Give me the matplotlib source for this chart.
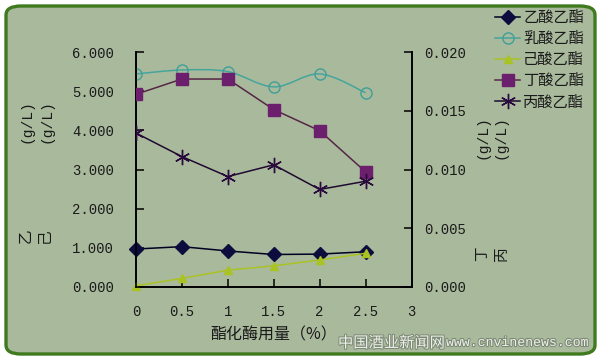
import numpy as np
import matplotlib
matplotlib.use('Agg')
import matplotlib.pyplot as plt
from matplotlib.patches import FancyBboxPatch, PathPatch
from matplotlib.path import Path
from matplotlib.lines import Line2D
import matplotlib.patheffects as pe

# enzyme dosage (%)
dosage = [0, 0.5, 1, 1.5, 2, 2.5]

# left axis (g/L)
yisuan = [0.97, 1.03, 0.92, 0.83, 0.84, 0.90]      # 乙酸乙酯
rusuan = [5.44, 5.54, 5.50, 5.11, 5.44, 4.96]      # 乳酸乙酯
jisuan = [0.03, 0.22, 0.43, 0.54, 0.69, 0.86]      # 己酸乙酯

# right axis (g/L)
dingsuan = [0.0164, 0.0177, 0.0177, 0.0151, 0.0133, 0.0098]  # 丁酸乙酯
bingsuan = [0.0131, 0.0111, 0.0094, 0.0104, 0.0083, 0.0090]  # 丙酸乙酯

names = ['乙酸乙酯', '乳酸乙酯', '己酸乙酯', '丁酸乙酯', '丙酸乙酯']
xticks = [0, 0.5, 1, 1.5, 2, 2.5, 3]
lticks = [0, 1, 2, 3, 4, 5, 6]
rticks = [0, 0.005, 0.010, 0.015, 0.020]

cjk = 'Noto Sans CJK SC'
num = 'Liberation Mono'
txt = '#1a1a1a'

fig = plt.figure(figsize=(6, 3.6), dpi=100)
fig.patch.set_facecolor('white')

# rounded green frame
bg = FancyBboxPatch((6 / 600, 6 / 360), 589 / 600, 348 / 360,
                    boxstyle='round,pad=0,rounding_size=0.025',
                    transform=fig.transFigure, facecolor='#a9b99c',
                    edgecolor='#3f7a1f', linewidth=2.4, zorder=-5)
fig.patches.append(bg)

ax = fig.add_axes([136 / 600, 1 - 287 / 360, 275.5 / 600, 235 / 360])
ax.set_facecolor('none')
ax2 = ax.twinx()
ax2.set_facecolor('none')

ax.plot(dosage, yisuan, color='#000022', lw=1.1, marker='D', ms=7,
        mfc='#0d0d3d', mec='#0d0d3d', zorder=4, clip_on=False)

# smoothed line for 乳酸乙酯 (bezier through the points)
pts = np.column_stack([dosage, rusuan])
verts = [tuple(pts[0])]
codes = [Path.MOVETO]
for i in range(len(pts) - 1):
    p0 = pts[i - 1] if i > 0 else pts[i]
    p1 = pts[i]
    p2 = pts[i + 1]
    p3 = pts[i + 2] if i + 2 < len(pts) else pts[i + 1]
    c1 = p1 + (p2 - p0) / 6
    c2 = p2 - (p3 - p1) / 6
    verts += [tuple(c1), tuple(c2), tuple(p2)]
    codes += [Path.CURVE4] * 3
ax.add_patch(PathPatch(Path(verts, codes), fill=False, edgecolor='#45a59c',
                       lw=1.1, zorder=3))
ax.plot(dosage, rusuan, ls='none', marker='o', ms=8, mfc='none',
        mec='#3f9f98', mew=1.0, zorder=4)

ax.plot(dosage, jisuan, color='#a9c322', lw=1.1, marker='^', ms=5.5,
        mfc='#a9c322', mec='#a9c322', zorder=4, clip_on=False)

ax2.plot(dosage, dingsuan, color='#552645', lw=1.1, marker='s', ms=8.5,
         mfc='#6c1f6c', mec='#6c1f6c', zorder=4)
ax2.plot(dosage, bingsuan, color='#1e0a30', lw=1.1, marker=(6, 2, 0), ms=11,
         mec='#2a0a3e', mew=1.0, zorder=4)

ax.set_xlim(0, 3)
ax.set_ylim(0, 6)
ax2.set_ylim(0, 0.020)

for a in (ax, ax2):
    a.spines['top'].set_visible(False)
    for s in ('left', 'right', 'bottom'):
        a.spines[s].set_color('black')
        a.spines[s].set_linewidth(1.2)
    a.tick_params(direction='in', length=6, width=1.1, colors='black',
                  labelcolor=txt, labelsize=10)

ax.set_xticks(xticks)
ax.set_xticklabels(['0', '0.5', '1', '1.5', '2', '2.5', '3'], family=num)
ax.tick_params(axis='x', pad=13)
ax.set_yticks(lticks)
ax.set_yticklabels(['%.3f' % v for v in lticks], family=num)
ax.tick_params(axis='y', pad=16)
ax2.set_yticks(rticks)
ax2.set_yticklabels(['%.3f' % v for v in rticks], family=num)
ax2.tick_params(axis='y', pad=9)

ax.set_xlabel('酯化酶用量（%）', family=cjk, fontsize=11.5, color=txt, labelpad=5)

# axis titles (split pieces as in the source)
def ftext(x, y, s, fam):
    fig.text(x / 600, 1 - y / 360, s, rotation=90, ha='center', va='center',
             family=fam, fontsize=10.5, color=txt)

ftext(27, 121, '(g/L)', num)
ftext(46, 121, '(g/L)', num)
ftext(26, 236, '乙', cjk)
ftext(45, 236, '己', cjk)
ftext(482, 137, '(g/L)', num)
ftext(501, 137, '(g/L)', num)
ftext(482, 254, '丁', cjk)
ftext(502, 254, '丙', cjk)

handles = [
    Line2D([], [], color='#000022', lw=1.1, marker='D', ms=7, mfc='#0d0d3d', mec='#0d0d3d'),
    Line2D([], [], color='#45a59c', lw=1.1, marker='o', ms=8, mfc='none', mec='#3f9f98'),
    Line2D([], [], color='#a9c322', lw=1.1, marker='^', ms=5.5, mfc='#a9c322', mec='#a9c322'),
    Line2D([], [], color='#552645', lw=1.1, marker='s', ms=8.5, mfc='#6c1f6c', mec='#6c1f6c'),
    Line2D([], [], color='#1e0a30', lw=1.1, marker=(6, 2, 0), ms=11, mec='#2a0a3e'),
]
fig.legend(handles, names, loc='upper left', bbox_to_anchor=(495 / 600, 1 - 9 / 360),
           frameon=False, prop={'family': cjk, 'size': 11}, labelcolor=txt,
           handlelength=1.65, handletextpad=0.2, labelspacing=0.27,
           borderpad=0, borderaxespad=0)

# watermark
fig.text(338 / 600, 1 - 343 / 360, '中国酒业新闻网', family=cjk, fontsize=11,
         color='#eef0ea', va='center', ha='left',
         path_effects=[pe.withStroke(linewidth=1.5, foreground='#7d8a76')])
fig.text(446 / 600, 1 - 343 / 360, 'www.cnvinenews.com', family=num, fontsize=9.5,
         color='#eef0ea', va='center', ha='left',
         path_effects=[pe.withStroke(linewidth=1.5, foreground='#7d8a76')])

fig.savefig('out.png', dpi=100, facecolor='white')
